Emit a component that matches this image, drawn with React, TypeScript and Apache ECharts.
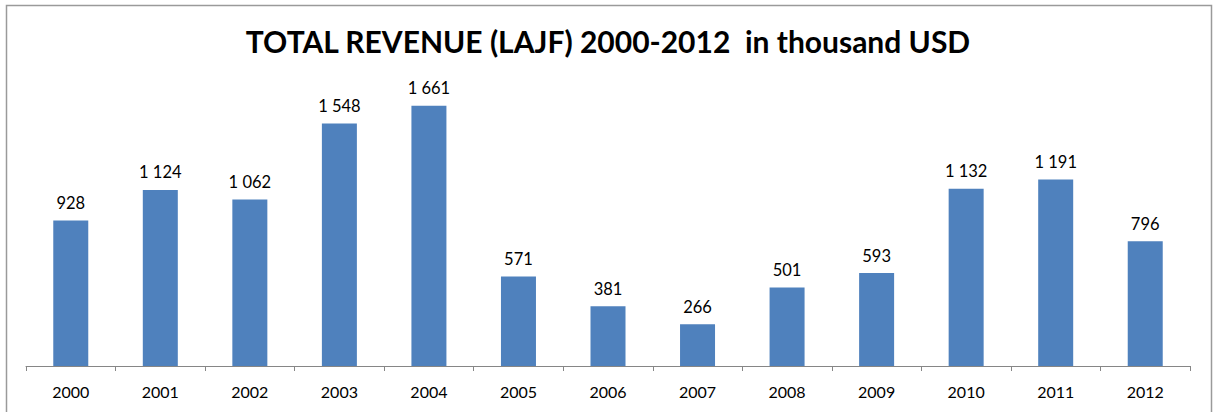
import React, { useEffect, useRef } from "react";
import * as echarts from "echarts";

const years = ["2000", "2001", "2002", "2003", "2004", "2005", "2006", "2007", "2008", "2009", "2010", "2011", "2012"];
const revenue = [928, 1124, 1062, 1548, 1661, 571, 381, 266, 501, 593, 1132, 1191, 796];
const titleText = "TOTAL REVENUE (LAJF) 2000-2012  in thousand USD";

const fmt = (v: number) => String(v).replace(/\B(?=(\d{3})+(?!\d))/g, " ");

export default function App() {
  const ref = useRef<HTMLDivElement>(null);
  useEffect(() => {
    document.body.style.margin = "0";
    const chart = echarts.init(ref.current!, null, { renderer: "svg" });
    chart.setOption({
      animation: false,
      backgroundColor: "#ffffff",
      title: {
        text: titleText,
        left: "center",
        top: 21,
        textStyle: { fontFamily: "Lato", fontWeight: "bold", fontSize: 30, color: "#000000" },
      },
      graphic: [
        {
          type: "rect",
          shape: { x: 6.5, y: 5.5, width: 1205, height: 430 },
          style: { fill: "none", stroke: "#9a9a9a", lineWidth: 1.5 },
          silent: true,
        },
      ],
      grid: { left: 26, right: 26, top: 84, bottom: 46 },
      xAxis: {
        type: "category",
        data: years,
        boundaryGap: true,
        axisLine: { lineStyle: { color: "#868686", width: 1 } },
        axisTick: { show: true, length: 5, alignWithLabel: false, lineStyle: { color: "#868686" } },
        axisLabel: { fontFamily: "Lato", fontSize: 16, color: "#000000", margin: 17 },
      },
      yAxis: {
        type: "value",
        min: 0,
        max: 1800,
        show: false,
        splitLine: { show: false },
      },
      series: [
        {
          type: "bar",
          data: revenue,
          barWidth: 35,
          itemStyle: { color: "#4F81BD" },
          label: {
            show: true,
            position: "top",
            distance: 9,
            fontFamily: "Lato",
            fontSize: 16.5,
            color: "#000000",
            formatter: (p: any) => fmt(p.value),
          },
        },
      ],
    });
    return () => chart.dispose();
  }, []);
  return <div ref={ref} style={{ width: 1216, height: 412 }} />;
}
